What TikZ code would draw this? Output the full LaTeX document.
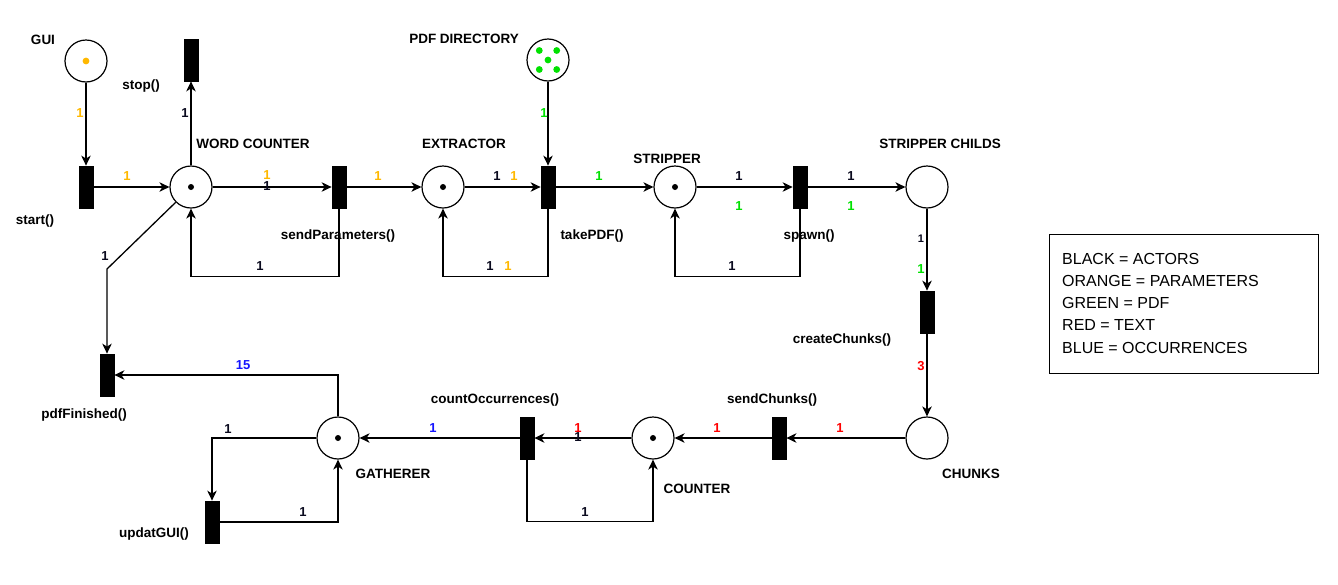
\documentclass[tikz,border=0pt]{standalone}
\usepackage{fontspec}
\setmainfont{Liberation Sans}
\usetikzlibrary{arrows.meta}
\definecolor{porange}{RGB}{255,184,0}
\definecolor{pgreen}{RGB}{0,225,0}
\definecolor{pred}{RGB}{255,0,0}
\definecolor{pblue}{RGB}{20,20,255}
\definecolor{pblack}{RGB}{10,10,30}
\begin{document}
\begin{tikzpicture}[x=1pt,y=-1pt,
  pplace/.style={draw, circle, minimum size=42pt, inner sep=0pt, line width=1.2pt},
  ptrans/.style={fill=black, draw=black, minimum width=14pt, minimum height=42pt, inner sep=0pt, line width=0.8pt},
  arc/.style={draw, line width=1.3pt, -{Stealth[length=10pt,width=9.5pt,inset=3pt]}},
  lab/.style={font=\fontsize{13.5}{16}\selectfont\bfseries, inner sep=0pt, anchor=base, yshift=-4.9pt},
  wt/.style={font=\fontsize{13}{15}\selectfont\bfseries, inner sep=0pt, anchor=base, yshift=-4.7pt},
  leg/.style={font=\fontsize{16}{19}\selectfont, inner sep=0pt, anchor=base west},
]
\useasboundingbox (0,0) rectangle (1338,584);
% places
\node[pplace] (gui) at (86,61) {};
\node[pplace] (wc) at (191,187) {};
\node[pplace] (ex) at (443,187) {};
\node[pplace] (pdf) at (548,60) {};
\node[pplace] (st) at (675,187) {};
\node[pplace] (sc) at (927,187) {};
\node[pplace] (ch) at (927,438) {};
\node[pplace] (co) at (653,438) {};
\node[pplace] (ga) at (338,438) {};
% tokens
\fill[porange] (gui) circle (3.4pt);
\fill[black] (wc) circle (3pt);
\fill[black] (ex) circle (3pt);
\fill[black] (st) circle (3pt);
\fill[black] (co) circle (3pt);
\fill[black] (ga) circle (3pt);
\foreach \dx/\dy in {-8.7/-9.5, 8.7/-9.5, 0/0, -8.7/9.5, 8.7/9.5}
  \fill[pgreen] ([shift={(\dx,\dy)}]pdf.center) circle (3.4pt);
% transitions
\node[ptrans] (tstart) at (86,187) {};
\node[ptrans] (tstop) at (191,60) {};
\node[ptrans] (tsend) at (339,187) {};
\node[ptrans] (ttake) at (548,187) {};
\node[ptrans] (tspawn) at (800,187) {};
\node[ptrans] (tcreate) at (927,312) {};
\node[ptrans] (tsendch) at (779,438) {};
\node[ptrans] (tcount) at (527,438) {};
\node[ptrans] (tpdf) at (107,375) {};
\node[ptrans] (tupd) at (212,522) {};
\coordinate (bend) at (107,269);
% arcs
\draw[arc] (gui) -- (tstart);
\draw[arc] (tstart) -- (wc);
\draw[arc] (wc) -- (tstop);
\draw[arc] (wc) -- (tsend);
\draw[arc] (tsend.south) -- ++(0,68) -| (wc.south);
\draw[arc] (tsend) -- (ex);
\draw[arc] (ex) -- (ttake);
\draw[arc] (ttake.south) -- ++(0,68) -| (ex.south);
\draw[arc] (pdf) -- (ttake);
\draw[arc] (ttake) -- (st);
\draw[arc] (st) -- (tspawn);
\draw[arc] (tspawn.south) -- ++(0,68) -| (st.south);
\draw[arc] (tspawn) -- (sc);
\draw[arc] (sc) -- (tcreate);
\draw[arc] (tcreate) -- (ch);
\draw[arc] (ch) -- (tsendch);
\draw[arc] (tsendch) -- (co);
\draw[arc] (co) -- (tcount);
\draw[arc] (tcount.south) -- ++(0,62) -| (co.south);
\draw[arc] (tcount) -- (ga);
\draw[arc] (ga.north) |- (tpdf.east);
\draw[arc] (ga.west) -| (tupd.north);
\draw[arc] (tupd.east) -| (ga.south);
\draw[arc] (wc.south west) -- (bend) -- (tpdf.north);
% names
\node[lab] (nGUI) at (43,40) {GUI};
\node[lab] (nstop) at (141,85) {stop()};
\node[lab] (nwc) at (253,144) {WORD COUNTER};
\node[lab] (nstart) at (35,220) {start()};
\node[lab] (nsend) at (338,235) {sendParameters()};
\node[lab] (npdf) at (464,39) {PDF DIRECTORY};
\node[lab] (nex) at (464,144) {EXTRACTOR};
\node[lab] (ntake) at (592,235) {takePDF()};
\node[lab] (nst) at (667,159) {STRIPPER};
\node[lab] (nspawn) at (809,235) {spawn()};
\node[lab] (nsc) at (940,144) {STRIPPER CHILDS};
\node[lab] (ncreate) at (842,339) {createChunks()};
\node[lab] (npdff) at (84,414) {pdfFinished()};
\node[lab] (nupd) at (154,533) {updatGUI()};
\node[lab] (nga) at (393,474) {GATHERER};
\node[lab] (ncount) at (495,399) {countOccurrences()};
\node[lab] (nsendch) at (772,399) {sendChunks()};
\node[lab] (nco) at (697,489) {COUNTER};
\node[lab] (nch) at (971,474) {CHUNKS};
% weights
\node[wt,porange] (w1) at (80,113) {1};
\node[wt,porange] (w2) at (127,176) {1};
\node[wt,pblack] (w3) at (185,113) {1};
\node[wt,porange] (w4a) at (267,175) {1};
\node[wt,pblack] (w4b) at (267,186) {1};
\node[wt,pblack] (w5) at (260,266) {1};
\node[wt,porange] (w6) at (378,176) {1};
\node[wt,pblack] (w7a) at (497,176) {1};
\node[wt,porange] (w7b) at (514,176) {1};
\node[wt,pblack] (w8a) at (490,266) {1};
\node[wt,porange] (w8b) at (508,266) {1};
\node[wt,pgreen] (w9) at (544,113) {1};
\node[wt,pgreen] (w10) at (599,176) {1};
\node[wt,pblack] (w11a) at (739,176) {1};
\node[wt,pgreen] (w11b) at (739,206) {1};
\node[wt,pblack] (w12) at (732,266) {1};
\node[wt,pblack] (w13a) at (851,176) {1};
\node[wt,pgreen] (w13b) at (851,206) {1};
\node[wt,pblack,font=\fontsize{11}{13}\selectfont\bfseries] (w14a) at (921,238) {1};
\node[wt,pgreen] (w14b) at (921,269) {1};
\node[wt,pred] (w15) at (921,366) {3};
\node[wt,pred] (w16) at (840,428) {1};
\node[wt,pred] (w17) at (717,428) {1};
\node[wt,pred] (w18a) at (578,428) {1};
\node[wt,pblack] (w18b) at (578,437) {1};
\node[wt,pblack] (w19) at (585,512) {1};
\node[wt,pblue] (w20) at (433,428) {1};
\node[wt,pblue] (w21) at (243,365) {15};
\node[wt,pblack] (w22) at (228,429) {1};
\node[wt,pblack] (w23) at (303,512) {1};
\node[wt,pblack] (w24) at (105,256) {1};
% legend
\node[draw, line width=1pt, minimum width=269pt, minimum height=139pt, inner sep=0pt, anchor=north west] (legend) at (1049,234) {};
\node[leg] (l1) at (1062,264) {BLACK = ACTORS};
\node[leg] (l2) at (1062,286) {ORANGE = PARAMETERS};
\node[leg] (l3) at (1062,308.5) {GREEN = PDF};
\node[leg] (l4) at (1062,330.5) {RED = TEXT};
\node[leg] (l5) at (1062,353) {BLUE = OCCURRENCES};
\end{tikzpicture}
\end{document}
